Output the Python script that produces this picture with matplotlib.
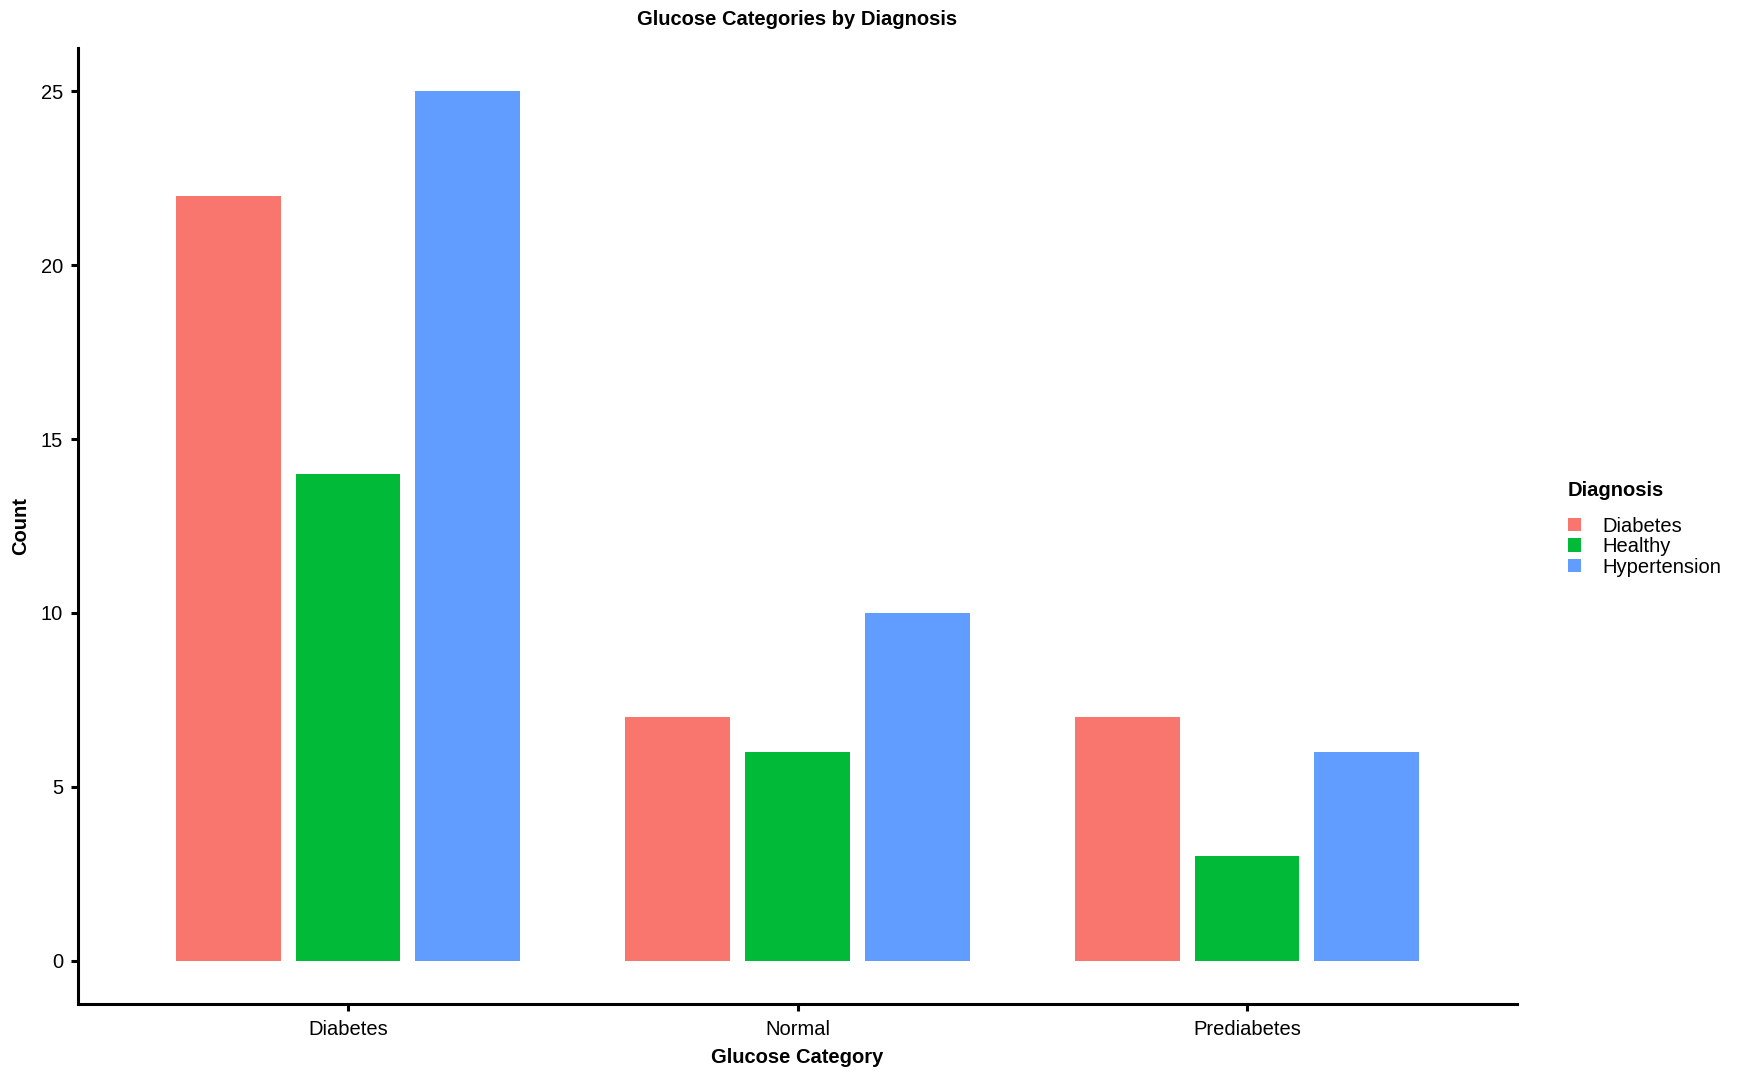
import matplotlib
matplotlib.use("Agg")
import matplotlib.pyplot as plt
import numpy as np

plt.rcParams["font.family"] = ["Liberation Sans", "DejaVu Sans"]

# Counts
categories = ["Diabetes", "Normal", "Prediabetes"]
diagnoses = ["Diabetes", "Healthy", "Hypertension"]
diabetes_counts = [22, 7, 7]
healthy_counts = [14, 6, 3]
hypertension_counts = [25, 10, 6]
colors = ["#F8766D", "#00BA38", "#619CFF"]

series = [diabetes_counts, healthy_counts, hypertension_counts]
FS = 14.5

fig = plt.figure(figsize=(17.47, 10.8), dpi=100)
ax = fig.add_axes([0.0448, 0.0701, 0.8234, 0.8857])

x = np.arange(1, len(categories) + 1)
dodge = 0.8 / len(diagnoses)
bar_w = 0.7 / len(diagnoses)
handles = []
for i, (vals, lab, col) in enumerate(zip(series, diagnoses, colors)):
    b = ax.bar(x + (i - 1) * dodge, vals, width=bar_w, color=col, label=lab)
    handles.append(b)

ax.set_xlim(0.4, 3.6)
ax.set_ylim(-1.25, 26.25)
ax.set_xticks(x)
ax.set_xticklabels(categories)
ax.set_yticks([0, 5, 10, 15, 20, 25])

for side in ("top", "right"):
    ax.spines[side].set_visible(False)
for side in ("left", "bottom"):
    ax.spines[side].set_linewidth(2.2)
ax.tick_params(axis="both", length=5, width=2.2, labelsize=FS, colors="black", pad=6)

ax.set_xlabel("Glucose Category", fontsize=FS, fontweight="bold", labelpad=7)
ax.set_ylabel("Count", fontsize=FS, fontweight="bold", labelpad=8)
ax.set_title("Glucose Categories by Diagnosis", fontsize=FS, fontweight="bold", pad=16.5)

# legend: title placed separately to get the ggplot-style gap
fig.text(0.8975, 1 - 491 / 1080, "Diagnosis", fontsize=FS, fontweight="bold",
         ha="left", va="center")
leg = fig.legend(handles=handles, labels=diagnoses,
                 loc="upper left", bbox_to_anchor=(0.8975, 0.5215),
                 frameon=False, fontsize=FS, borderpad=0,
                 handlelength=0.65, handleheight=0.65, labelspacing=0.07,
                 handletextpad=1.05, borderaxespad=0)

fig.savefig("out.png", dpi=100)
